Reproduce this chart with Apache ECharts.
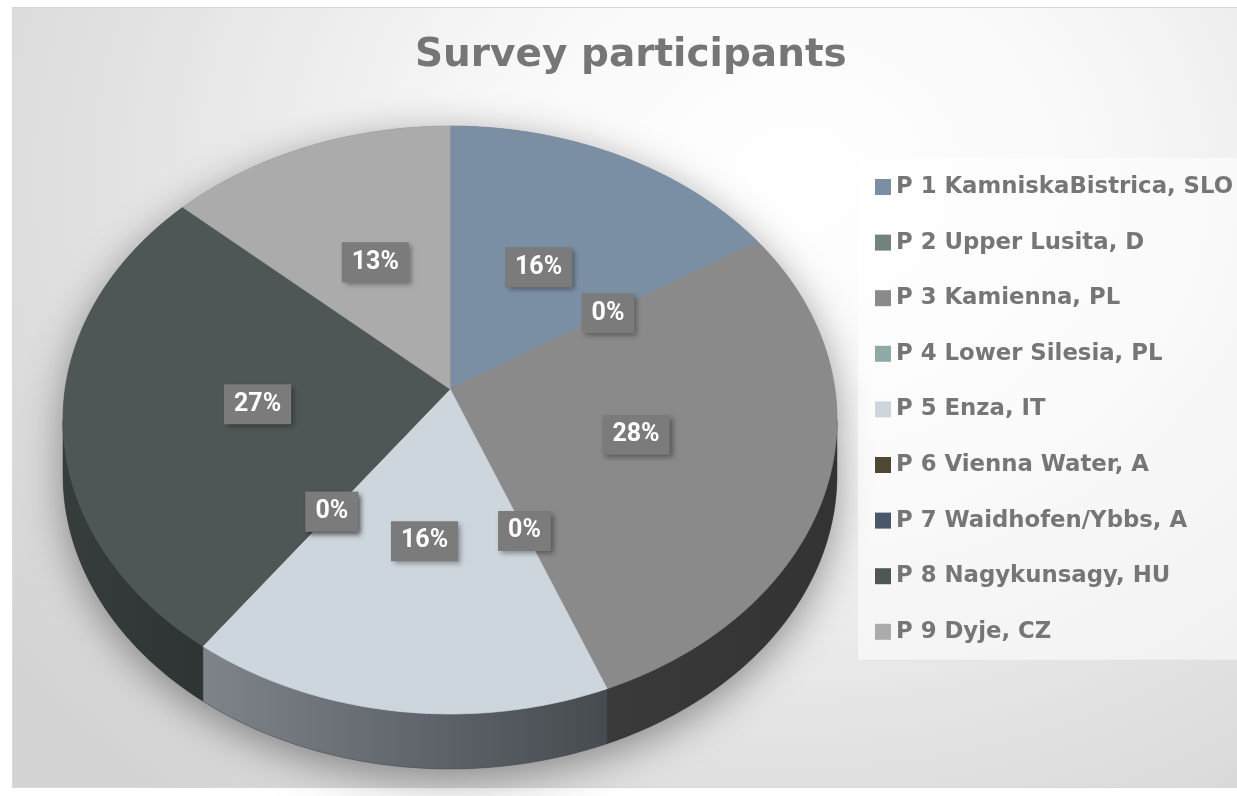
<!DOCTYPE html>
<html>
<head>
<meta charset="utf-8">
<title>Survey participants</title>
<script src="https://cdn.jsdelivr.net/npm/echarts@6/dist/echarts.min.js"></script>
<style>
html, body { margin: 0; padding: 0; background: #ffffff; }
#frame {
  position: absolute; left: 12px; top: 7px; width: 1225px; height: 779px;
  border-top: 1px solid #d4d4d4; border-left: 1px solid #dadada; border-bottom: 1px solid #d8d8d8;
  background: radial-gradient(ellipse 80% 105% at 64% 22%, #ffffff 0%, #f8f8f8 32%, #e2e2e2 70%, #d3d3d3 100%);
}
#main { position: absolute; left: 0; top: 0; width: 1237px; height: 796px; }
</style>
</head>
<body>
<div id="frame"></div>
<div id="main"></div>
<script>
const participants = [
  'P 1 KamniskaBistrica, SLO',
  'P 2 Upper Lusita, D',
  'P 3 Kamienna, PL',
  'P 4 Lower Silesia, PL',
  'P 5 Enza, IT',
  'P 6 Vienna Water, A',
  'P 7 Waidhofen/Ybbs, A',
  'P 8 Nagykunsagy, HU',
  'P 9 Dyje, CZ'
];
const responses = [12, 0, 21, 0, 12, 0, 0, 20, 10];

const sliceColors = ['#7b8fa4', '#72827f', '#8a8a8a', '#8fa9a7', '#cdd5dd', '#4e4732', '#4a576b', '#4e5756', '#ababab'];
// side wall shading, left -> right
const sideColors = [
  ['#4a5866', '#3f4b57'], ['#46504e', '#3c4543'], ['#3a3a3a', '#333333'],
  ['#55656a', '#4a585c'], ['#7e848a', '#464b50'], ['#302c20', '#29261b'],
  ['#2e3643', '#272e39'], ['#363d3c', '#2e3433'], ['#666666', '#5a5a5a']
];

const total = responses.reduce((s, v) => s + v, 0);
const starts = [];
let acc = 0;
responses.forEach(v => { starts.push(acc); acc += v; });

// tilted disc seen in perspective
const pie = { cx: 450, cy: 389, a: 384.8, b: 290.7, k: 0.1054, depth: 55 };
const rad = d => d * Math.PI / 180;
function project(r, deg, drop) {
  const s = Math.sin(rad(deg)), c = Math.cos(rad(deg));
  const d = 1 + pie.k * r * c;
  return [pie.cx + pie.a * r * s / d, pie.cy - pie.b * r * c / d + (drop || 0)];
}
const frontFrom = 90 + Math.asin(pie.k) * 180 / Math.PI;
const frontTo = 360 - frontFrom;

function arc(from, to, drop) {
  const pts = [];
  for (let t = from; t < to; t += 1) pts.push(project(1, t, drop));
  pts.push(project(1, to, drop));
  return pts;
}

function renderSlice(i, value, start) {
  const a0 = start / total * 360;
  const a1 = (start + value) / total * 360;
  const children = [];

  if (i === 0) {
    // outline of the whole disc, carries the soft shadow
    const outline = arc(frontTo, frontFrom + 360, 0).concat(arc(frontFrom, frontTo, pie.depth));
    children.push({
      type: 'polygon', z2: -10, shape: { points: outline },
      style: { fill: '#666', shadowBlur: 40, shadowColor: 'rgba(0,0,0,0.4)', shadowOffsetY: 10 }
    });
  }

  const f0 = Math.max(a0, frontFrom), f1 = Math.min(a1, frontTo);
  if (value > 0 && f1 > f0) {
    const wall = arc(f0, f1, 0).concat(arc(f0, f1, pie.depth).reverse());
    children.push({
      type: 'polygon', z2: 0, shape: { points: wall },
      style: {
        fill: new echarts.graphic.LinearGradient(0, 0, 1, 0, [
          { offset: 0, color: sideColors[i][0] }, { offset: 1, color: sideColors[i][1] }
        ]),
        stroke: sideColors[i][1], lineWidth: 0.5
      }
    });
  }

  if (value > 0) {
    const top = [project(0, a0)].concat(arc(a0, a1, 0));
    children.push({
      type: 'polygon', z2: 10, shape: { points: top },
      style: { fill: sliceColors[i], stroke: sliceColors[i], lineWidth: 0.8 }
    });
  }

  const p = project(0.5, (a0 + a1) / 2);
  children.push({
    type: 'text', z2: 20, x: p[0], y: p[1],
    style: {
      text: Math.round(value / total * 100) + '%',
      fill: '#ffffff', font: 'bold 25px Roboto', align: 'center', verticalAlign: 'middle',
      lineHeight: 26, padding: [7, 10], backgroundColor: '#7b7b7b',
      shadowColor: 'rgba(0,0,0,0.35)', shadowBlur: 5, shadowOffsetX: 3, shadowOffsetY: 3
    }
  });
  return { type: 'group', children };
}

const chart = echarts.init(document.getElementById('main'));
chart.setOption({
  animation: false,
  title: {
    text: 'Survey participants',
    left: 415, top: 36, padding: 0,
    textStyle: { color: '#767676', fontSize: 39, fontWeight: 'bold', fontFamily: 'DejaVu Sans' }
  },
  legend: {
    orient: 'vertical',
    left: 858, top: 158,
    padding: [17, 10, 16, 17],
    backgroundColor: 'rgba(255,255,255,0.55)',
    itemWidth: 16, itemHeight: 16, itemGap: 31.6,
    icon: 'rect',
    selectedMode: false,
    data: participants,
    textStyle: { color: '#767676', fontSize: 22.8, fontWeight: 'bold', fontFamily: 'DejaVu Sans', lineHeight: 24 }
  },
  series: participants.map((name, i) => ({
    type: 'custom',
    name: name,
    coordinateSystem: 'none',
    silent: true,
    itemStyle: { color: sliceColors[i] },
    data: [[responses[i], starts[i]]],
    renderItem: (params, api) => renderSlice(i, api.value(0), api.value(1))
  }))
});
</script>
</body>
</html>
